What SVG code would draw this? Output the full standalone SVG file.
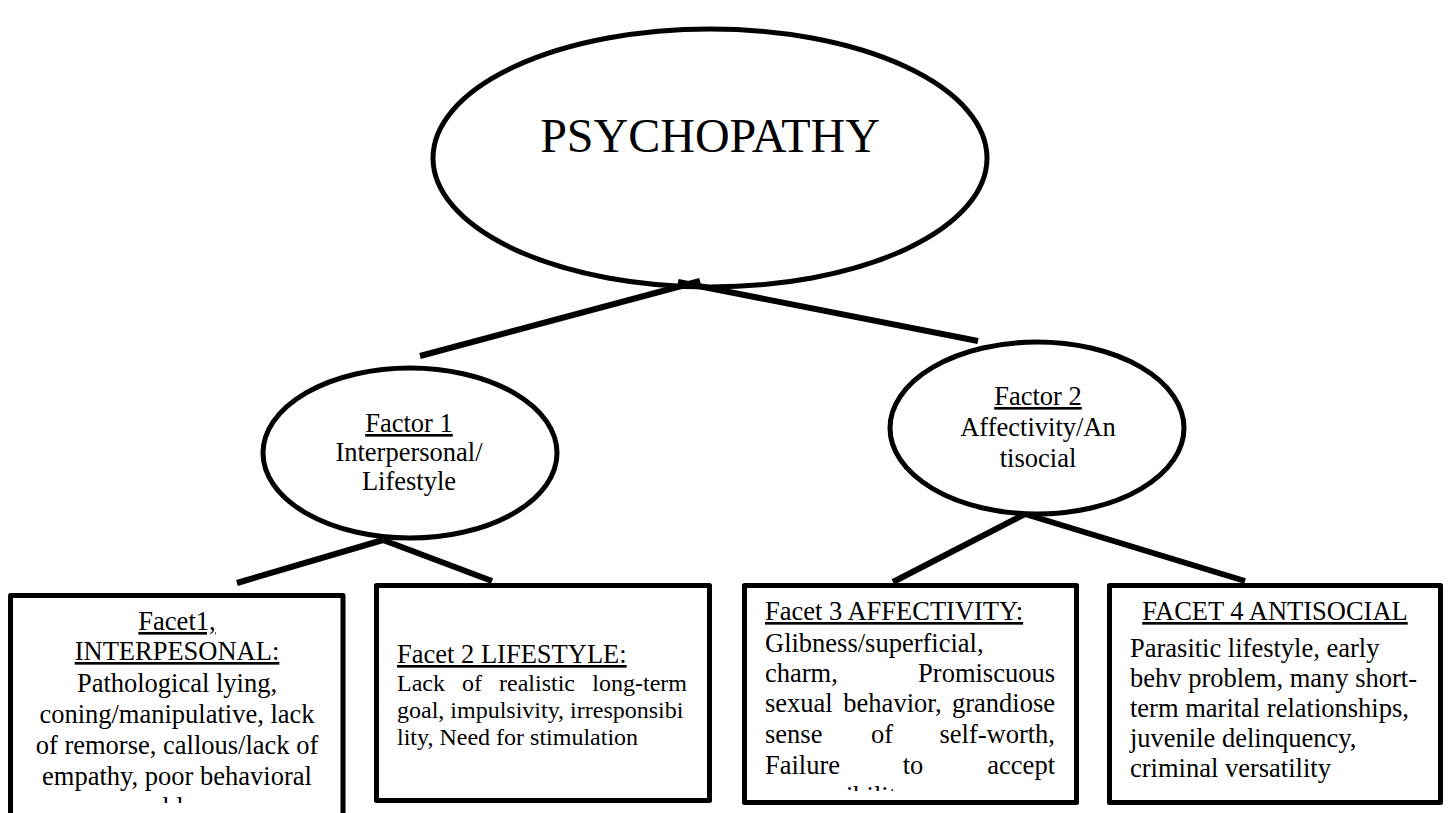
<svg xmlns="http://www.w3.org/2000/svg" width="1450" height="813" viewBox="0 0 1450 813">
<style>
  .shape { fill: #ffffff; stroke: #000000; stroke-width: 5; }
  .box { fill: #ffffff; stroke: #000000; stroke-width: 5; stroke-linejoin: round; }
  .conn { stroke: #000000; stroke-width: 6; fill: none; }
  text { font-family: "Liberation Serif", "Times New Roman", serif; fill: #000000; }
  .title { font-size: 48px; text-anchor: middle; }
  .f { font-size: 26.5px; }
  .c { text-anchor: middle; }
  .e { text-anchor: end; }
  .s24 { font-size: 24px; }
  .u { text-decoration: underline; }
</style>
<defs>
  <clipPath id="clip1"><rect x="13" y="598" width="327" height="205"/></clipPath>
  <clipPath id="clip3"><rect x="747" y="588" width="327" height="203"/></clipPath>
</defs>
<rect x="0" y="0" width="1450" height="813" fill="#ffffff"/>

<g id="connectors">
  <line class="conn" x1="420" y1="356" x2="700" y2="281"/>
  <line class="conn" x1="678" y1="282" x2="978" y2="341"/>
  <line class="conn" x1="383" y1="540" x2="237" y2="583"/>
  <line class="conn" x1="383" y1="540" x2="492" y2="581"/>
  <line class="conn" x1="1025" y1="514" x2="893" y2="582"/>
  <line class="conn" x1="1025" y1="514" x2="1245" y2="581"/>
</g>

<g id="psychopathy">
  <ellipse class="shape" cx="710" cy="158" rx="277" ry="129" style="fill:none"/>
  <text class="title" x="710" y="152">PSYCHOPATHY</text>
</g>

<g id="factor1">
  <ellipse class="shape" cx="410" cy="453" rx="147" ry="85"/>
  <text class="f c u" x="409" y="432">Factor 1</text>
  <text class="f c" x="409" y="461">Interpersonal/</text>
  <text class="f c" x="409" y="490">Lifestyle</text>
</g>

<g id="factor2">
  <ellipse class="shape" cx="1037" cy="428" rx="147" ry="86"/>
  <text class="f c u" x="1038" y="405">Factor 2</text>
  <text class="f c" x="1038" y="436">Affectivity/An</text>
  <text class="f c" x="1038" y="467">tisocial</text>
</g>

<g id="facet1">
  <rect class="box" x="10.5" y="595.5" width="332.5" height="230"/>
  <text class="f c u" x="177" y="630">Facet1,</text>
  <text class="f c u" x="177" y="660">INTERPESONAL:</text>
  <text class="f c" x="177" y="692">Pathological lying,</text>
  <text class="f c" x="177" y="723">coning/manipulative, lack</text>
  <text class="f c" x="177" y="754">of remorse, callous/lack of</text>
  <text class="f c" x="177" y="785">empathy, poor behavioral</text>
  <text class="f c" x="177" y="816" clip-path="url(#clip1)">problems</text>
</g>

<g id="facet2">
  <rect class="box" x="376.5" y="585.5" width="333" height="215"/>
  <text class="f u" x="397" y="663">Facet 2 LIFESTYLE:</text>
  <text class="s24" x="397" y="691">Lack</text>
  <text class="s24" x="462" y="691">of</text>
  <text class="s24" x="499" y="691">realistic</text>
  <text class="s24 e" x="687" y="691">long-term</text>
  <text class="s24" x="397" y="718">goal, impulsivity, irresponsibi</text>
  <text class="s24" x="397" y="745">lity, Need for stimulation</text>
</g>

<g id="facet3">
  <rect class="box" x="744.5" y="585.5" width="332" height="217"/>
  <text class="f u" x="765" y="620">Facet 3 AFFECTIVITY:</text>
  <text class="f" x="765" y="652">Glibness/superficial,</text>
  <text class="f" x="765" y="682">charm,</text>
  <text class="f e" x="1055" y="682">Promiscuous</text>
  <text class="f" x="765" y="712">sexual</text>
  <text class="f c" x="892.5" y="712">behavior,</text>
  <text class="f e" x="1055" y="712">grandiose</text>
  <text class="f" x="765" y="743">sense</text>
  <text class="f c" x="882" y="743">of</text>
  <text class="f e" x="1055" y="743">self-worth,</text>
  <text class="f" x="765" y="774">Failure</text>
  <text class="f c" x="913" y="774">to</text>
  <text class="f e" x="1055" y="774">accept</text>
  <text class="f" x="765" y="805" clip-path="url(#clip3)">responsibility</text>
</g>

<g id="facet4">
  <rect class="box" x="1109.5" y="585.5" width="331" height="217"/>
  <text class="f c u" x="1275" y="620">FACET 4 ANTISOCIAL</text>
  <text class="f" x="1130" y="657">Parasitic lifestyle, early</text>
  <text class="f" x="1130" y="687">behv problem, many short-</text>
  <text class="f" x="1130" y="717">term marital relationships,</text>
  <text class="f" x="1130" y="747">juvenile delinquency,</text>
  <text class="f" x="1130" y="777">criminal versatility</text>
</g>
</svg>
